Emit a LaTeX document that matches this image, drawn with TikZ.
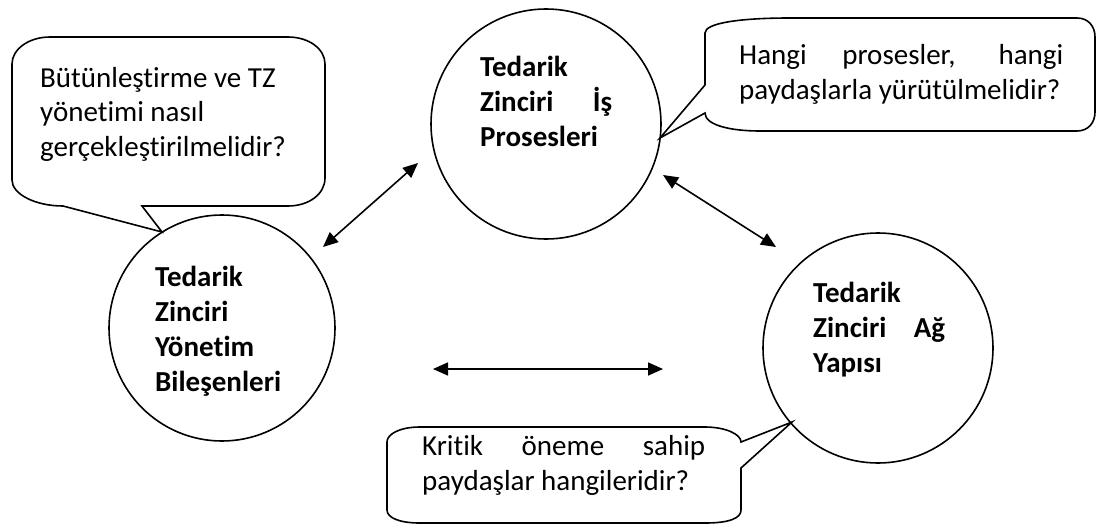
\documentclass[tikz,border=0pt]{standalone}
\usepackage{fontspec}
\setmainfont{Carlito}[Ligatures=NoCommon]
\usetikzlibrary{arrows.meta}
\newcommand{\fullline}[2]{\makebox[#1][s]{#2}}
\begin{document}
\begin{tikzpicture}[x=1pt,y=-1pt,
  bubble/.style={circle,draw,line width=1.6pt,inner sep=0pt},
  callout/.style={draw,line width=1.6pt,line join=miter},
  link/.style={line width=1.6pt,{Triangle[length=15pt,width=13pt]}-{Triangle[length=15pt,width=13pt]}},
  lbl/.style={anchor=base west,inner sep=0pt,font=\fontsize{29}{35}\selectfont},
  title/.style={lbl,font=\fontsize{29}{35}\selectfont\bfseries}]
\useasboundingbox (0,0) rectangle (1097,527);

% the three circles
\node[bubble,minimum size=230pt] (proc) at (546,124) {};
\node[bubble,minimum size=226pt] (mgmt) at (222,328) {};
\node[bubble,minimum size=230pt] (net)  at (878,348) {};

\node[title] (proctxt) at (480,77)
  {\parbox[t]{200pt}{\raggedright Tedarik\\\fullline{132pt}{Zinciri İş}\\Prosesleri}};
\node[title] (mgmttxt) at (155,286)
  {\parbox[t]{200pt}{\raggedright Tedarik\\Zinciri\\Yönetim\\Bileşenleri}};
\node[title] (nettxt) at (813,302)
  {\parbox[t]{200pt}{\raggedright Tedarik\\\fullline{132pt}{Zinciri Ağ}\\Yapısı}};

% speech bubbles
\draw[callout] (50,37) -- (288,37) .. controls (309,37) and (325,49) .. (325,64)
  -- (325,178) .. controls (325,194) and (309,206) .. (288,206)
  -- (142,206) -- (162,232) -- (63,206)
  .. controls (35,206) and (12,194) .. (12,180)
  -- (12,64) .. controls (12,49) and (29,37) .. (50,37) -- cycle;
\node[lbl] (q1) at (40,87)
  {\parbox[t]{400pt}{\raggedright Bütünleştirme ve TZ\\yönetimi nasıl\\gerçekleştirilmelidir?}};

\draw[callout] (790,18) -- (1077,18) .. controls (1088,18) and (1095,26) .. (1095,37)
  -- (1095,112) .. controls (1095,123) and (1088,131) .. (1077,131)
  -- (760,131) .. controls (730,131) and (705,125) .. (705,113)
  -- (660,138) -- (705,85)
  -- (705,33) .. controls (705,23) and (740,18) .. (790,18) -- cycle;
\node[lbl] (q2) at (739,65)
  {\parbox[t]{400pt}{\raggedright\fullline{324pt}{Hangi prosesler, hangi}\\paydaşlarla yürütülmelidir?}};

\draw[callout] (420,427) -- (705,427) .. controls (725,427) and (741,434) .. (741,442)
  -- (792,422) -- (741,468)
  -- (741,510) .. controls (741,518) and (730,523) .. (705,523)
  -- (420,523) .. controls (400,523) and (387,518) .. (387,510)
  -- (387,442) .. controls (387,434) and (400,427) .. (420,427) -- cycle;
\node[lbl] (q3) at (422,455)
  {\parbox[t]{400pt}{\raggedright\fullline{283pt}{Kritik öneme sahip}\\paydaşlar hangileridir?}};

% two-way links between the circles
\coordinate (a1) at (323,247);
\coordinate (b1) at (418,163);
\coordinate (a2) at (663,175);
\coordinate (b2) at (776,247);
\coordinate (a3) at (433,369);
\coordinate (b3) at (663,369);
\draw[link] (a1) -- (b1);
\draw[link] (a2) -- (b2);
\draw[link] (a3) -- (b3);
\end{tikzpicture}
\end{document}
